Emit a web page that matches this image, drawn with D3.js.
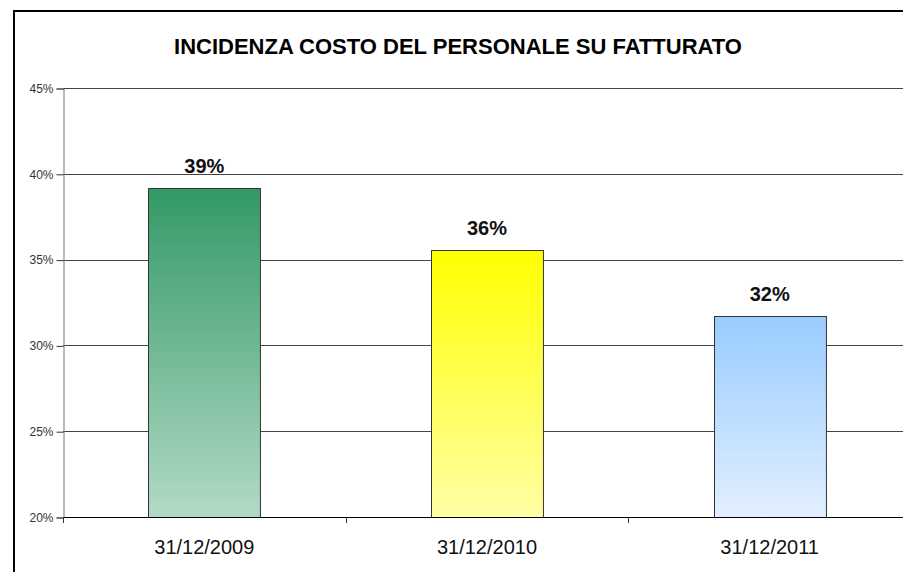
<!DOCTYPE html>
<html>
<head>
<meta charset="utf-8">
<script src="https://cdn.jsdelivr.net/npm/d3@7"></script>
<style>
html,body{margin:0;padding:0;background:#fff;overflow:hidden;width:903px;height:572px;}
svg{display:block;overflow:hidden;font-family:"Liberation Sans",Arial,sans-serif;}
</style>
</head>
<body>
<svg id="chart" width="903" height="572" viewBox="0 0 903 572"></svg>
<script>
const title = "INCIDENZA COSTO DEL PERSONALE SU FATTURATO";
const categories = ["31/12/2009", "31/12/2010", "31/12/2011"];
const values = [0.392, 0.3555, 0.317];
const valueLabels = ["39%", "36%", "32%"];
const yTicks = [0.20, 0.25, 0.30, 0.35, 0.40, 0.45];
const yTickLabels = ["20%", "25%", "30%", "35%", "40%", "45%"];
const gradTop = ["#339966", "#ffff00", "#99ccff"];
const gradBottom = ["#b2dac6", "#ffffa6", "#e2efff"];

(function () {
const svg = d3.select("#chart");
const W = 903;
const pLeft = 63, pRight = 911, pTop = 88, pBottom = 517;

const x = d3.scaleBand().domain(categories).range([pLeft, pRight]).paddingInner(0.604).paddingOuter(0.302);
const y = d3.scaleLinear().domain([0.20, 0.45]).range([pBottom, pTop]);

// outer frame (top and left edges visible)
svg.append("line").attr("x1", 13).attr("x2", W).attr("y1", 11).attr("y2", 11)
  .attr("stroke", "#000").attr("stroke-width", 2);
svg.append("line").attr("x1", 14).attr("x2", 14).attr("y1", 10).attr("y2", 572)
  .attr("stroke", "#000").attr("stroke-width", 2);

// title
svg.append("text").attr("x", 458).attr("y", 54).attr("text-anchor", "middle")
  .attr("font-size", 22).attr("font-weight", "bold").attr("fill", "#000").text(title);

// gradients
const defs = svg.append("defs");
categories.forEach((c, i) => {
  const g = defs.append("linearGradient").attr("id", "g" + i)
    .attr("x1", 0).attr("y1", 0).attr("x2", 0).attr("y2", 1);
  g.append("stop").attr("offset", "0%").attr("stop-color", gradTop[i]);
  g.append("stop").attr("offset", "100%").attr("stop-color", gradBottom[i]);
});

// gridlines
svg.append("g").selectAll("line").data(yTicks.slice(1)).join("line")
  .attr("x1", pLeft).attr("x2", W)
  .attr("y1", d => Math.round(y(d)) + 0.5).attr("y2", d => Math.round(y(d)) + 0.5)
  .attr("stroke", "#444").attr("stroke-width", 1);

// y axis
const yAxis = d3.axisLeft(y).tickValues(yTicks).tickSize(7).tickPadding(3)
  .tickFormat((d, i) => yTickLabels[i]);
const gy = svg.append("g").attr("transform", `translate(${pLeft + 0.5},0.5)`).call(yAxis);
gy.select(".domain").attr("stroke", "#777");
gy.selectAll(".tick line").attr("stroke", "#333");
gy.selectAll(".tick text").attr("font-size", 12).attr("fill", "#333")
  .attr("font-family", "'Liberation Sans',Arial,sans-serif");

// bars
svg.append("g").selectAll("rect").data(values).join("rect")
  .attr("x", (d, i) => Math.round(x(categories[i])) + 0.5)
  .attr("y", d => Math.round(y(d)) + 0.5)
  .attr("width", x.bandwidth())
  .attr("height", d => pBottom - Math.round(y(d)))
  .attr("fill", (d, i) => `url(#g${i})`)
  .attr("stroke", "#333").attr("stroke-width", 1);

// x axis line
svg.append("line").attr("x1", pLeft).attr("x2", W)
  .attr("y1", pBottom + 0.5).attr("y2", pBottom + 0.5).attr("stroke", "#000");

// x ticks at category boundaries
const boundaries = [pLeft].concat(categories.map(c => x(c) + x.bandwidth() / 2 + x.step() / 2))
  .filter(d => d < W);
svg.append("g").selectAll("line").data(boundaries).join("line")
  .attr("x1", d => Math.round(d) + 0.5).attr("x2", d => Math.round(d) + 0.5)
  .attr("y1", pBottom).attr("y2", pBottom + 6).attr("stroke", "#333");

// category labels
svg.append("g").selectAll("text").data(categories).join("text")
  .attr("x", c => x(c) + x.bandwidth() / 2).attr("y", 554)
  .attr("text-anchor", "middle").attr("font-size", 20).attr("fill", "#111").text(c => c);

// value labels
svg.append("g").selectAll("text").data(values).join("text")
  .attr("x", (d, i) => x(categories[i]) + x.bandwidth() / 2)
  .attr("y", d => y(d) - 15)
  .attr("text-anchor", "middle").attr("font-size", 20).attr("font-weight", "bold")
  .attr("fill", "#111").text((d, i) => valueLabels[i]);
})();
</script>
</body>
</html>
